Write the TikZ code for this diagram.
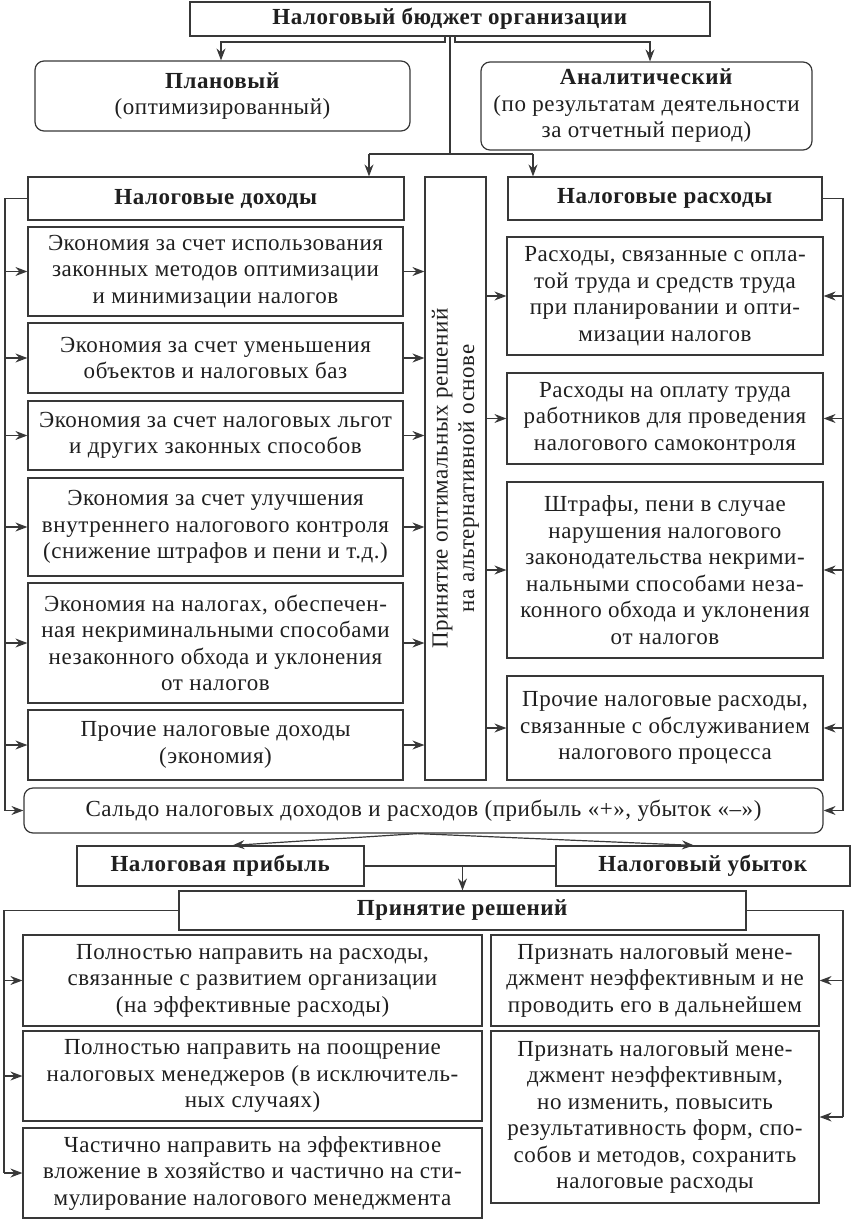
\documentclass[tikz,border=0pt]{standalone}
\usepackage{fontspec}
\setmainfont{Liberation Serif}[LetterSpace=2.5]
\usetikzlibrary{arrows.meta}
\definecolor{lc}{HTML}{383838}
\newcommand\fs{\fontsize{23}{26.5}\selectfont}
\tikzset{
  box/.style={draw=lc, line width=1.2pt, fill=white, align=center, inner sep=2pt, font=\fs, text=black!88},
  rbox/.style={box, rounded corners=9pt},
  conn/.style={draw=lc, line width=1.2pt},
  arr/.style={conn, -{Stealth[length=12pt,width=9pt,inset=4pt]}},
}
\begin{document}
\begin{tikzpicture}[x=1pt,y=-1pt]
\useasboundingbox (0,0) rectangle (855,1220);
% top
\node[box, minimum width=520, minimum height=34] (top) at (450,19) {\textbf{Налоговый бюджет организации}};
\node[rbox, minimum width=375, minimum height=70] (plan) at (222.5,96) {\textbf{Плановый}\\(оптимизированный)};
\node[rbox, minimum width=331, minimum height=88] (anal) at (646.5,106) {\textbf{Аналитический}\\(по результатам деятельности\\за отчетный период)};
\node[box, minimum width=376, minimum height=43] (inc) at (216,198.5) {\textbf{Налоговые доходы}};
\node[box, minimum width=314, minimum height=43] (exp) at (665,198.5) {\textbf{Налоговые расходы}};
\node[box, minimum width=61, minimum height=603] (mid) at (455.5,478.5) {};
\node[rotate=90, align=center, font=\fs, text=black!88, inner sep=0pt] (midtxt) at (mid.center) {Принятие оптимальных решений\\на альтернативной основе};
% left items
\node[box, minimum width=375, minimum height=89] (L1) at (215.5,271.5) {Экономия за счет использования\\законных методов оптимизации\\и минимизации налогов};
\node[box, minimum width=375, minimum height=70] (L2) at (215.5,358) {Экономия за счет уменьшения\\объектов и налоговых баз};
\node[box, minimum width=375, minimum height=69] (L3) at (215.5,435.5) {Экономия за счет налоговых льгот\\и других законных способов};
\node[box, minimum width=375, minimum height=98] (L4) at (215.5,527) {Экономия за счет улучшения\\внутреннего налогового контроля\\(снижение штрафов и пени и т.д.)};
\node[box, minimum width=375, minimum height=120] (L5) at (215.5,643) {Экономия на налогах, обеспечен-\\ная некриминальными способами\\незаконного обхода и уклонения\\от налогов};
\node[box, minimum width=375, minimum height=70] (L6) at (215.5,745) {Прочие налоговые доходы\\(экономия)};
% right items
\node[box, minimum width=316, minimum height=118] (R1) at (665,296) {Расходы, связанные с опла-\\той труда и средств труда\\при планировании и опти-\\мизации налогов};
\node[box, minimum width=316, minimum height=91] (R2) at (665,418.5) {Расходы на оплату труда\\работников для проведения\\налогового самоконтроля};
\node[box, minimum width=316, minimum height=176] (R3) at (665,570) {Штрафы, пени в случае\\нарушения налогового\\законодательства некрими-\\нальными способами неза-\\конного обхода и уклонения\\от налогов};
\node[box, minimum width=316, minimum height=104] (R4) at (665,728) {Прочие налоговые расходы,\\связанные с обслуживанием\\налогового процесса};
% saldo
\node[rbox, minimum width=799, minimum height=45] (saldo) at (423.5,810.5) {Сальдо налоговых доходов и расходов (прибыль «+», убыток «–»)};
\node[box, minimum width=287, minimum height=40] (profit) at (220.5,866) {\textbf{Налоговая прибыль}};
\node[box, minimum width=294, minimum height=40] (loss) at (703,866) {\textbf{Налоговый убыток}};
\node[box, minimum width=567, minimum height=39] (decide) at (462.5,910.5) {\textbf{Принятие решений}};
% bottom items
\node[box, minimum width=459, minimum height=91] (B1) at (252.5,980.5) {Полностью направить на расходы,\\связанные с развитием организации\\(на эффективные расходы)};
\node[box, minimum width=459, minimum height=90] (B2) at (252.5,1076) {Полностью направить на поощрение\\налоговых менеджеров (в исключитель-\\ных случаях)};
\node[box, minimum width=459, minimum height=90] (B3) at (252.5,1173) {Частично направить на эффективное\\вложение в хозяйство и частично на сти-\\мулирование налогового менеджмента};
\node[box, minimum width=328, minimum height=91] (C1) at (655,980.5) {Признать налоговый мене-\\джмент неэффективным и не\\проводить его в дальнейшем};
\node[box, minimum width=328, minimum height=172] (C2) at (655,1117) {Признать налоговый мене-\\джмент неэффективным,\\но изменить, повысить\\результативность форм, спо-\\собов и методов, сохранить\\налоговые расходы};
% coordinates
\coordinate (BL) at (221,42);
\coordinate (BR) at (650,42);
\coordinate (T) at (450,154);
\coordinate (TL) at (369,154);
\coordinate (TR) at (533,154);
\coordinate (LB) at (5,0);
\coordinate (RB) at (843,0);
\coordinate (LB2) at (4,0);
% top connectors
\draw[arr] ([xshift=-5pt]top.south) |- (BL) -- (BL |- plan.north);
\draw[arr] ([xshift=5pt]top.south) |- (BR) -- (BR |- anal.north);
\draw[conn] (top.south) -- (T);
\draw[conn] (TL) -- (TR);
\draw[arr] (TL) -- (TL |- inc.north);
\draw[arr] (TR) -- (TR |- exp.north);
% left bus
\draw[conn] (inc.west) -- (inc.west -| LB) -- (saldo.west -| LB);
\foreach \n in {L1,L2,L3,L4,L5,L6,saldo} {\draw[arr] (\n.west -| LB) -- (\n.west);}
\foreach \n in {L1,L2,L3,L4,L5,L6} {\draw[arr] (\n.east) -- (\n.east -| mid.west);}
% right bus
\draw[conn] (exp.east) -- (exp.east -| RB) -- (saldo.east -| RB);
\foreach \n in {R1,R2,R3,R4,saldo} {\draw[arr] (\n.east -| RB) -- (\n.east);}
\foreach \n in {R1,R2,R3,R4} {\draw[arr] (\n.west -| mid.east) -- (\n.west);}
% saldo split
\draw[arr] ([xshift=-6pt]saldo.south) -- ([xshift=12pt]profit.north);
\draw[arr] ([xshift=-6pt]saldo.south) -- ([xshift=-9pt]loss.north);
\draw[conn] (profit.east) -- (loss.west);
\draw[arr] (decide.north |- profit.east) -- (decide.north);
% bottom buses
\draw[conn] (decide.west) -- (decide.west -| LB2) -- (B3.west -| LB2);
\foreach \n in {B1,B2,B3} {\draw[arr] (\n.west -| LB2) -- (\n.west);}
\draw[conn] (decide.east) -- (decide.east -| RB) -- (C2.east -| RB);
\foreach \n in {C1,C2} {\draw[arr] (\n.east -| RB) -- (\n.east);}
\end{tikzpicture}
\end{document}
